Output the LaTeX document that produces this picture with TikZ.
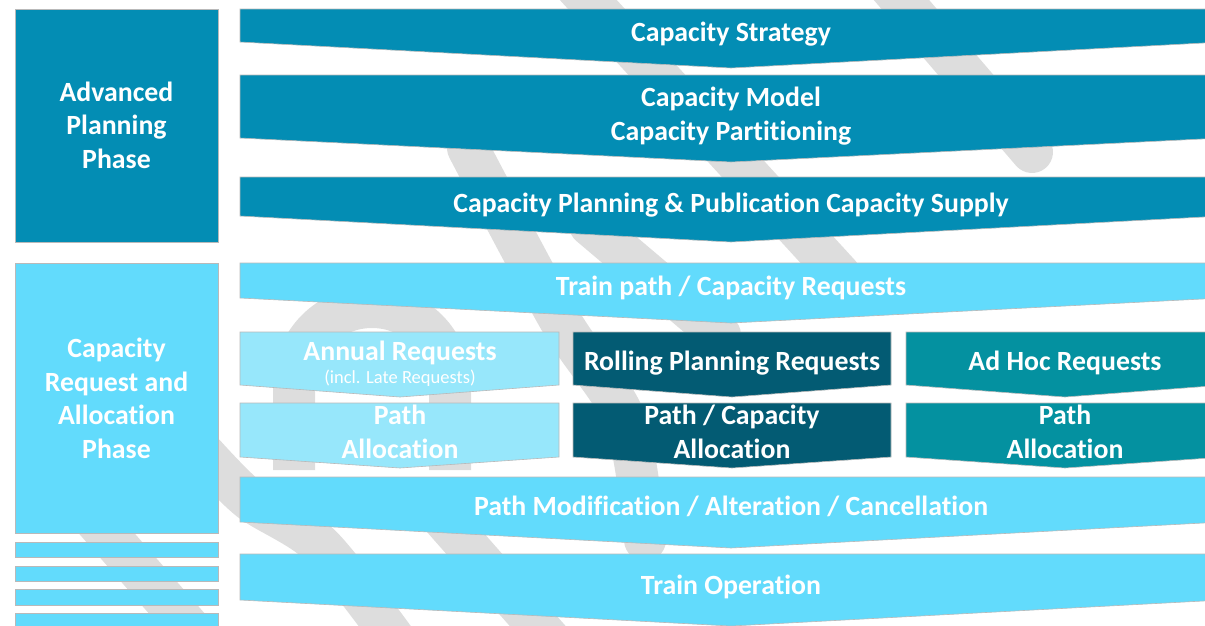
\documentclass[tikz,border=0pt]{standalone}
\usepackage{fontspec}
\setmainfont{Carlito}[Ligatures=NoCommon]
\definecolor{advblue}{RGB}{3,141,180}
\definecolor{reqcyan}{RGB}{98,219,252}
\definecolor{annlight}{RGB}{151,231,251}
\definecolor{rolldark}{RGB}{3,91,115}
\definecolor{adhocteal}{RGB}{4,145,160}
\definecolor{wmgray}{RGB}{221,221,221}

\begin{document}
\begin{tikzpicture}[x=1pt,y=-1pt,
    box/.style = {
      draw = gray!55,
      line width = 0.6pt
    },
    lbl/.style = {
      text = white,
      align = center,
      inner sep = 0pt,
      anchor = base,
      font = \bfseries\fontsize{27.8}{33.5}\selectfont
    },
    small/.style = {
      text = white,
      inner sep = 0pt,
      anchor = base,
      font = \fontsize{18.5}{22}\selectfont
    },
    wm/.style = {
      draw = wmgray,
      line width = 42pt,
      line cap = round
    }
  ]
  \useasboundingbox (0,0) rectangle (1205,625);
  \clip (0,0) rectangle (1205,625);

  % watermark
  \draw[wm] (880,-25) -- (1032,152);
  \draw[wm] (570,-20) -- (840,275);
  \draw[wm] plot[smooth] coordinates {(468,148) (560,320) (625,420) (645,540)};
  \draw[wm] (590,225) -- (720,335);
  \draw[wm,line cap=butt] (294,470) -- (294,385) arc (180:360:78) -- (450,470);
  \draw[wm] plot[smooth] coordinates {(205,455) (250,500) (320,545) (395,640)};
  \draw[wm] (60,480) -- (200,640);
  \draw[wm] (440,515) -- (550,640);

  % phases
  \path[box,fill=advblue] (15,9) rectangle (218,242);
  \path[box,fill=reqcyan] (15,263) rectangle (218,533);
  \path[box,fill=reqcyan] (15,542) rectangle (218,557);
  \path[box,fill=reqcyan] (15,566) rectangle (218,581);
  \path[box,fill=reqcyan] (15,589) rectangle (218,605);
  \path[box,fill=reqcyan] (15,613) rectangle (218,630);

  \node[lbl] (advanced) at (116.5,168) {Advanced\\Planning\\Phase};
  \node[lbl] (request) at (116.5,458) {Capacity\\Request and\\Allocation\\Phase};

  % steps
  \path[box,fill=advblue] (240,9) -- (1222,9) -- (1222,42) -- (731,68) -- (240,42) -- cycle;
  \path[box,fill=advblue] (240,75) -- (1222,75) -- (1222,138) -- (731,162) -- (240,138) -- cycle;
  \path[box,fill=advblue] (240,177) -- (1222,177) -- (1222,216) -- (731,242) -- (240,216) -- cycle;
  \path[box,fill=reqcyan] (240,263) -- (1222,263) -- (1222,298) -- (731,323) -- (240,298) -- cycle;

  \path[box,fill=annlight] (240,332) -- (559,332) -- (559,385) -- (400,397) -- (240,385) -- cycle;
  \path[box,fill=rolldark] (573,332) -- (891,332) -- (891,385) -- (732,397) -- (573,385) -- cycle;
  \path[box,fill=adhocteal] (906,332) -- (1224,332) -- (1224,385) -- (1065,397) -- (906,385) -- cycle;
  \path[box,fill=annlight] (240,403) -- (559,403) -- (559,457) -- (400,468) -- (240,457) -- cycle;
  \path[box,fill=rolldark] (573,403) -- (891,403) -- (891,457) -- (732,468) -- (573,457) -- cycle;
  \path[box,fill=adhocteal] (906,403) -- (1224,403) -- (1224,457) -- (1065,468) -- (906,457) -- cycle;

  \path[box,fill=reqcyan] (240,477) -- (1222,477) -- (1222,522) -- (731,548) -- (240,522) -- cycle;
  \path[box,fill=reqcyan] (240,554) -- (1222,554) -- (1222,600) -- (731,626) -- (240,600) -- cycle;

  \node[lbl] (strategy) at (731,41) {Capacity Strategy};
  \node[lbl] (model) at (731,140) {Capacity Model\\Capacity Partitioning};
  \node[lbl] (supply) at (731,212) {Capacity Planning \& Publication Capacity Supply};
  \node[lbl] (trainpath) at (731,295) {Train path / Capacity Requests};

  \node[lbl] (annual) at (400,360) {Annual Requests};
  \node[small] (late) at (400,383) {(incl. Late Requests)};
  \node[lbl] (rolling) at (732,370) {Rolling Planning Requests};
  \node[lbl] (adhoc) at (1065,370) {Ad Hoc Requests};

  \node[lbl] (annualpath) at (400,458) {Path\\Allocation};
  \node[lbl] (rollingpath) at (732,458) {Path / Capacity\\Allocation};
  \node[lbl] (adhocpath) at (1065,458) {Path\\Allocation};

  \node[lbl] (modification) at (731,515) {Path Modification / Alteration / Cancellation};
  \node[lbl] (operation) at (731,594) {Train Operation};
\end{tikzpicture}
\end{document}
